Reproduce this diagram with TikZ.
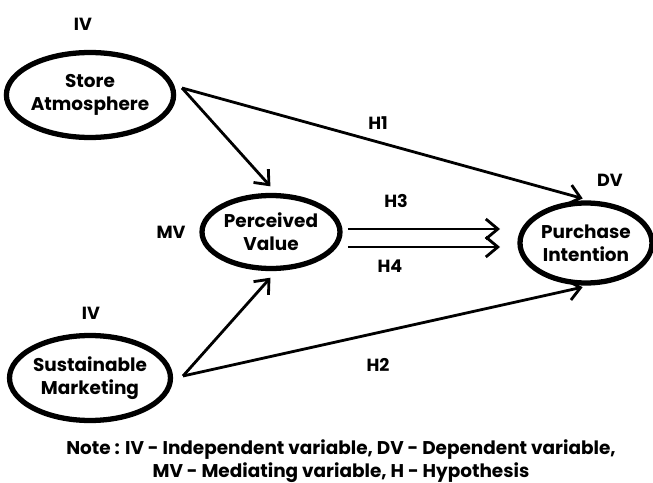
\documentclass[tikz,border=0pt]{standalone}
\usepackage{fontspec}
\setmainfont{Poppins}
\usetikzlibrary{%
  arrows.meta,%
  shapes.geometric,% wg. ellipse
  positioning%
}

\begin{document}
\begin{tikzpicture}
[x=0.02cm, y=-0.02cm, line width=1.6pt, >={Straight Barb[length=2.4mm,width=4mm]},
font=\bfseries\fontsize{10}{13}\selectfont,
var/.style={ellipse, draw, line width=3pt, align=center, inner sep=0pt, font=\bfseries\fontsize{10.5}{13}\selectfont},
tag/.style={inner sep=0pt}]

\useasboundingbox (0,0) rectangle (653,483);

% constructs
\node[var, minimum width=3.1cm, minimum height=1.7cm] (sa) at (90,95) {Store\\Atmosphere};
\node[var, minimum width=3.1cm, minimum height=1.7cm] (sm) at (90,378) {Sustainable\\Marketing};
\node[var, minimum width=2.76cm, minimum height=1.46cm] (pv) at (271,232) {Perceived\\Value};
\node[var, minimum width=2.64cm, minimum height=1.6cm] (pi) at (586,243) {Purchase\\Intention};

% variable types
\node[tag] (iv1) at (83,24) {IV};
\node[tag] (iv2) at (91,313) {IV};
\node[tag] (mv) at (171,232) {MV};
\node[tag] (dv) at (610,180) {DV};

% paths
\coordinate (sa-out) at (182,88);
\coordinate (sm-out) at (183,376);
\coordinate (h3-end) at (500,229);
\coordinate (h4-end) at (500,247);

\draw[->, shorten >=5pt] (sa-out) -- ([xshift=3pt]pv.north);
\draw[->, shorten >=4pt] (sa-out) -- ([xshift=2pt]pi.north);
\draw[->, shorten >=5pt] (sm-out) -- ([xshift=3pt]pv.south);
\draw[->, shorten >=4pt] (sm-out) -- ([xshift=2pt]pi.south);
\draw[->, shorten <=3pt] (pv.east |- h3-end) -- (h3-end);
\draw[->, shorten <=3pt] (pv.east |- h4-end) -- (h4-end);

\node[tag] (h1) at (378,123) {H1};
\node[tag] (h2) at (378,365) {H2};
\node[tag] (h3) at (396,201) {H3};
\node[tag] (h4) at (390,266) {H4};

% legend
\node[tag, align=center, font=\bfseries\fontsize{10.5}{13}\selectfont] (note) at (341,461)
  {Note : IV - Independent variable, DV - Dependent variable,\\MV - Mediating variable, H - Hypothesis};
\end{tikzpicture}
\end{document}
